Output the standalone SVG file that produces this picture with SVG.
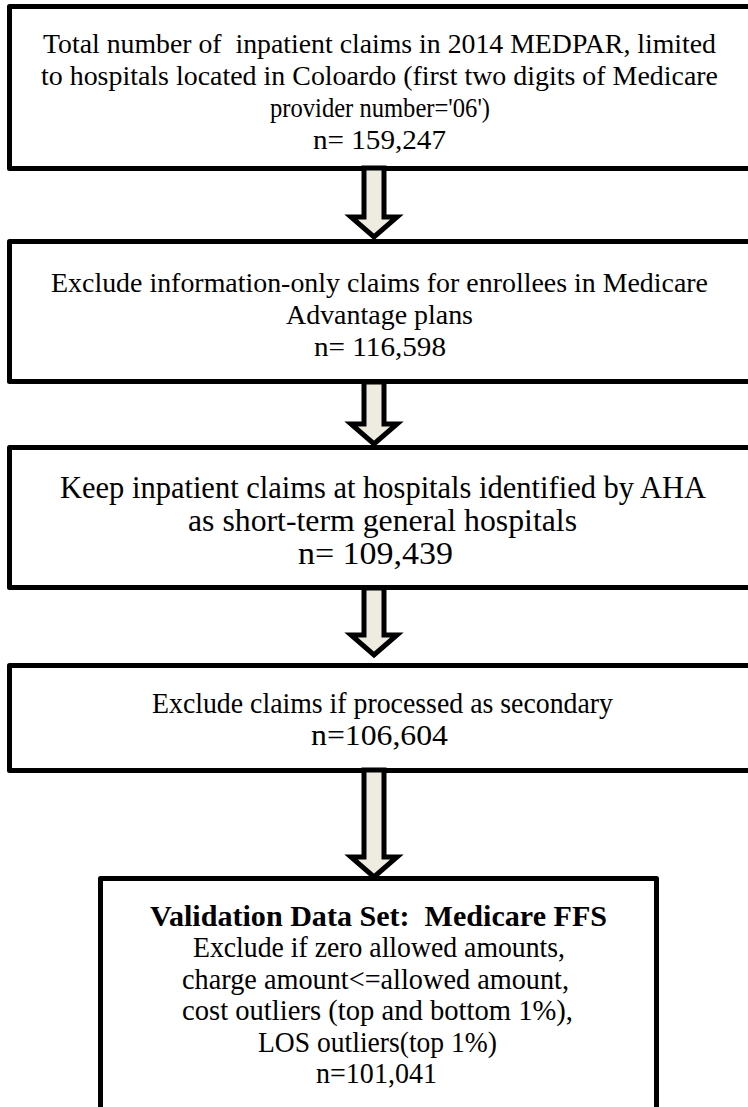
<svg xmlns="http://www.w3.org/2000/svg" width="748" height="1107" viewBox="0 0 748 1107">
<style>
.box{fill:#fff;stroke:#000;stroke-width:5;stroke-linejoin:round}
.arr{fill:#EEECE1;stroke:#000;stroke-width:5;stroke-linejoin:miter}
text{font-family:"Liberation Serif","Times New Roman",serif;fill:#000;white-space:pre}
.t1{font-size:28px}
.t{font-size:30px}
.t3{font-size:32px}
.t5{font-size:29px}
.b{font-size:30px;font-weight:bold}
</style>
<rect width="748" height="1107" fill="#fff"/>
<g id="node1">
<rect class="box" x="9.5" y="6.5" width="760" height="162"/>
<text class="t1" x="43" y="53" textLength="673" lengthAdjust="spacingAndGlyphs">Total number of  inpatient claims in 2014 MEDPAR, limited</text>
<text class="t1" x="41" y="85" textLength="677" lengthAdjust="spacingAndGlyphs">to hospitals located in Coloardo (first two digits of Medicare</text>
<text class="t1" x="270" y="117" textLength="220" lengthAdjust="spacingAndGlyphs">provider number='06')</text>
<text class="t1" x="313" y="149" textLength="133" lengthAdjust="spacingAndGlyphs">n= 159,247</text>
</g>
<g id="node2">
<rect class="box" x="9.5" y="241.5" width="760" height="140"/>
<text class="t1" x="51" y="292" textLength="657" lengthAdjust="spacingAndGlyphs">Exclude information-only claims for enrollees in Medicare</text>
<text class="t1" x="286" y="324" textLength="187" lengthAdjust="spacingAndGlyphs">Advantage plans</text>
<text class="t1" x="314" y="356" textLength="132" lengthAdjust="spacingAndGlyphs">n= 116,598</text>
</g>
<g id="node3">
<rect class="box" x="9.5" y="447.5" width="760" height="140"/>
<text class="t3" x="60" y="498" textLength="646" lengthAdjust="spacingAndGlyphs">Keep inpatient claims at hospitals identified by AHA</text>
<text class="t3" x="188" y="531" textLength="389" lengthAdjust="spacingAndGlyphs">as short-term general hospitals</text>
<text class="t3" x="298" y="564" textLength="155" lengthAdjust="spacingAndGlyphs">n= 109,439</text>
</g>
<g id="node4">
<rect class="box" x="9.5" y="665.5" width="760" height="105"/>
<text class="t" x="152" y="713" textLength="461" lengthAdjust="spacingAndGlyphs">Exclude claims if processed as secondary</text>
<text class="t" x="311" y="745" textLength="137" lengthAdjust="spacingAndGlyphs">n=106,604</text>
</g>
<g id="node5">
<rect class="box" x="100.5" y="878.5" width="556" height="260"/>
<text class="b" x="150" y="926" textLength="457" lengthAdjust="spacingAndGlyphs">Validation Data Set:  Medicare FFS</text>
<text class="t5" x="193" y="957" textLength="372" lengthAdjust="spacingAndGlyphs">Exclude if zero allowed amounts,</text>
<text class="t5" x="182" y="989" textLength="387" lengthAdjust="spacingAndGlyphs">charge amount&lt;=allowed amount,</text>
<text class="t5" x="182" y="1020" textLength="391" lengthAdjust="spacingAndGlyphs">cost outliers (top and bottom 1%),</text>
<text class="t5" x="258" y="1052" textLength="239" lengthAdjust="spacingAndGlyphs">LOS outliers(top 1%)</text>
<text class="t5" x="316" y="1083" textLength="121" lengthAdjust="spacingAndGlyphs">n=101,041</text>
</g>
<g id="connectors">
<path class="arr" d="M364,168 V217 H351 L374,237 L397,217 H384 V168 Z"/>
<path class="arr" d="M364,382 V424 H351 L374,444 L397,424 H384 V382 Z"/>
<path class="arr" d="M364,588 V635 H351 L374,655 L397,635 H384 V588 Z"/>
<path class="arr" d="M364,770 V857 H351 L374,877 L397,857 H384 V770 Z"/>
</g>
</svg>
